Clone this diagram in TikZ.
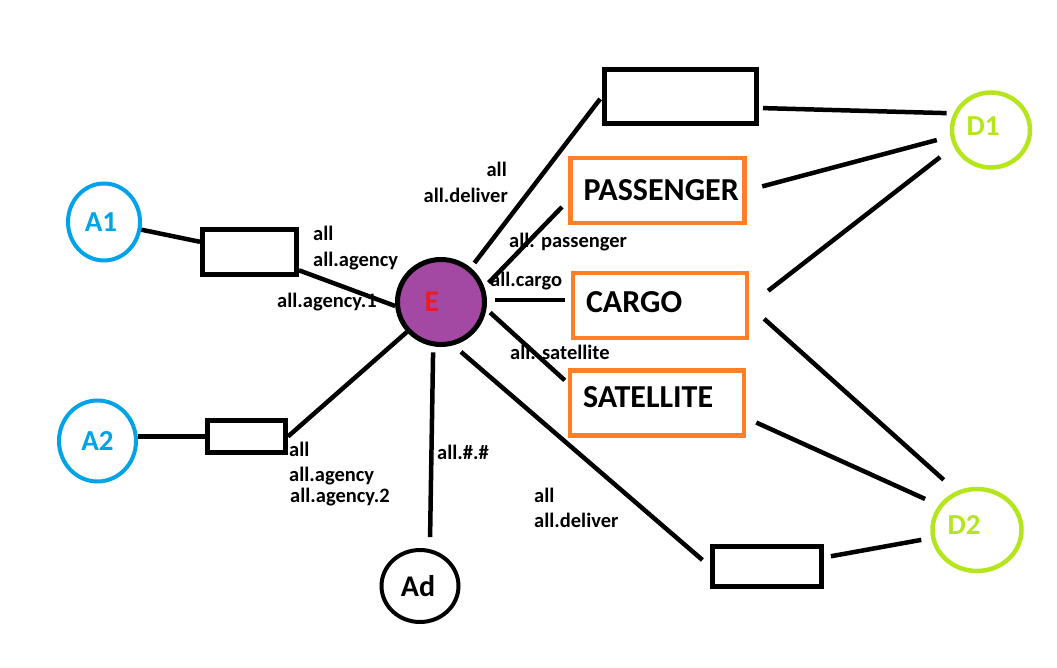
\documentclass[tikz,border=0pt]{standalone}
\usepackage{fontspec}
\setmainfont{Carlito}
\usepackage{xcolor}
\usepackage{tikz}
\usetikzlibrary{shapes.geometric}
\definecolor{agentblue}{RGB}{0,162,232}
\definecolor{hubpurple}{RGB}{163,73,164}
\definecolor{hubred}{RGB}{237,28,36}
\definecolor{queueorange}{RGB}{255,127,39}
\definecolor{destgreen}{RGB}{181,230,29}

\begin{document}
\begin{tikzpicture}[x=1pt, y=-1pt,
  agent/.style={ellipse, draw=agentblue, text=agentblue, line width=4pt, inner sep=0pt,
    font=\fontsize{29}{29}\selectfont\bfseries},
  dest/.style={ellipse, draw=destgreen, text=destgreen, line width=4.5pt, inner sep=0pt,
    font=\fontsize{29}{29}\selectfont\bfseries},
  hub/.style={ellipse, draw, fill=hubpurple, text=hubred, line width=5pt, inner sep=0pt,
    font=\fontsize{30}{30}\selectfont\bfseries},
  plainbox/.style={draw, line width=5pt, inner sep=0pt},
  queue/.style={draw=queueorange, line width=4.5pt, inner xsep=13pt, inner ysep=0pt,
    text width=148pt, align=left, font=\fontsize{32}{32}\selectfont\bfseries},
  key/.style={inner sep=0pt, anchor=base west, font=\fontsize{20.5}{24}\selectfont\bfseries},
  link/.style={line width=4.5pt}]
  \useasboundingbox (0,0) rectangle (1057,668);

  % Nodes
  \node[agent, minimum width=72pt, minimum height=77pt] (A1) at (104,222) {A1\hspace*{6pt}};
  \node[agent, minimum width=77pt, minimum height=81pt] (A2) at (97.5,441) {A2};
  \node[hub, minimum width=87pt, minimum height=85pt] (E) at (441,302) {E\hspace*{18pt}};
  \node[ellipse, draw, line width=4pt, inner sep=0pt, minimum width=77pt, minimum height=72pt,
    font=\fontsize{30}{30}\selectfont\bfseries] (Ad) at (420,586) {Ad\hspace*{4pt}};
  \node[dest, minimum width=78pt, minimum height=75pt] (D1) at (991,130) {D1\hspace*{16pt}\rule[-8pt]{0pt}{1pt}};
  \node[dest, minimum width=89pt, minimum height=82pt] (D2) at (977,530) {D2\hspace*{26pt}\rule[-10pt]{0pt}{1pt}};

  \node[plainbox, minimum width=94pt, minimum height=45pt] (agencyq1) at (249.5,252) {};
  \node[plainbox, minimum width=78pt, minimum height=32pt] (agencyq2) at (246.5,436.5) {};
  \node[plainbox, minimum width=152pt, minimum height=54pt] (deliverq1) at (680.5,96.5) {};
  \node[plainbox, minimum width=109pt, minimum height=40pt] (deliverq2) at (767,566.5) {};

  \node[queue, minimum height=65pt] (passenger) at (657.5,190.5) {PASSENGER};
  \node[queue, minimum height=65pt] (cargo) at (660,305.5) {CARGO\rule[-6pt]{0pt}{1pt}};
  \node[queue, minimum height=65pt] (satellite) at (657,403) {SATELLITE\rule[-12pt]{0pt}{1pt}};

  % Binding keys
  \node[key] (kA1a) at (313,241) {all};
  \node[key] (kA1b) at (313,266) {all.agency};
  \node[key] (kA1c) at (277,307) {all.agency.1};
  \node[key] (kA2a) at (289,456) {all};
  \node[key] (kA2b) at (289,481) {all.agency};
  \node[key] (kA2c) at (290,502) {all.agency.2};
  \node[key] (kAd) at (437,459) {all.\#.\#};
  \node[key, anchor=base east] (kD1a) at (507,177) {all};
  \node[key, anchor=base east] (kD1b) at (508,203) {all.deliver};
  \node[key] (kpas) at (509,248) {all. passenger};
  \node[key] (kcar) at (490,287) {all.cargo};
  \node[key] (ksat) at (510,359) {all. satellite};
  \node[key] (kD2a) at (534,502) {all};
  \node[key] (kD2b) at (534,527) {all.deliver};

  % Lines (left side)
  \draw[link] (A1) -- (agencyq1);
  \draw[link] (agencyq1) -- (E.185);
  \draw[link] (A2.east |- agencyq2.west) -- (agencyq2.west);
  \draw[link] (agencyq2.east) -- (E);
  \draw[link, shorten <=6pt, shorten >=12pt] (E.260) -- (Ad.75);

  % Lines (E to the queues)
  \draw[link, shorten <=6pt, shorten >=3pt] (E.49) -- (deliverq1.west);
  \draw[link, shorten <=6pt, shorten >=9pt] (E.19) -- ([yshift=-10pt]passenger.west);
  \draw[link, shorten <=8pt, shorten >=6pt] ([yshift=2pt]E.east) -- ([yshift=2pt]E.east -| cargo.west);
  \draw[link, shorten <=5pt, shorten >=4pt] (E.-9) -- ([yshift=20pt]satellite.west);
  \draw[link, shorten <=10pt, shorten >=10pt] (E.-74) -- (deliverq2.west);

  % Lines (queues to D1 and D2)
  \draw[link, shorten <=4pt, shorten >=7pt] ([yshift=-11.5pt]deliverq1.east) -- (D1.156);
  \draw[link, shorten <=16pt, shorten >=14pt] (passenger.east) -- (D1.189);
  \draw[link, shorten <=24pt, shorten >=17pt] (cargo.east) -- (D1.204);
  \draw[link, shorten <=20pt, shorten >=17pt] (cargo.east) -- (D2.118);
  \draw[link, shorten <=11pt, shorten >=15pt] ([yshift=-15pt]satellite.east) -- (D2.147);
  \draw[link, shorten <=7pt, shorten >=10pt] ([yshift=9pt]deliverq2.east) -- (D2.190);
\end{tikzpicture}
\end{document}
